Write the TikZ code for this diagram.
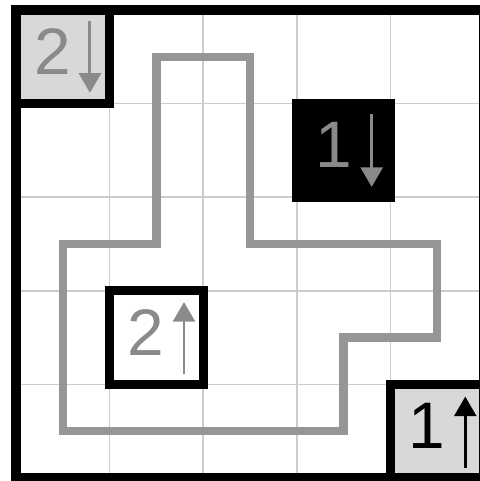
\documentclass[tikz,border=0pt]{standalone}
\usepackage{fontspec}
\setmainfont{Liberation Sans}
\usetikzlibrary{arrows.meta}
\definecolor{gridgray}{RGB}{204,204,204}
\definecolor{pathgray}{RGB}{150,150,150}
\definecolor{textgray}{RGB}{138,138,138}
\definecolor{cellgray}{RGB}{216,216,216}
\begin{document}
\begin{tikzpicture}[x=1cm,y=-1cm,
  gridline/.style={gridgray, line width=0.45pt},
  thickline/.style={black, line width=2.75pt, line join=miter},
  loopline/.style={pathgray, line width=2.5pt, line join=miter},
  digit/.style={font=\fontsize{20}{24}\selectfont, inner sep=0pt},
  arr/.style={line width=0.9pt, -{Triangle[width=0.235cm,length=0.21cm]}}]
\useasboundingbox (-0.171,-0.107) rectangle (4.947,5.032);
% grid
\foreach \i in {1,2,3,4} {
  \draw[gridline] (\i,0) -- (\i,5);
  \draw[gridline] (0,\i) -- (5,\i);
}
% cell fills
\fill[cellgray] (0,0) rectangle (1,1);
\fill[cellgray] (4,4) rectangle (5,5);
% loop
\draw[loopline] (1.5,0.5) -- (2.5,0.5) -- (2.5,2.5) -- (4.5,2.5) -- (4.5,3.5)
  -- (3.5,3.5) -- (3.5,4.5) -- (0.5,4.5) -- (0.5,2.5) -- (1.5,2.5) -- cycle;
% boxes
\draw[thickline] (0,0) rectangle (1,1);
\draw[thickline, fill=black] (3,1) rectangle (4,2);
\draw[thickline] (1,3) rectangle (2,4);
\draw[thickline] (4,4) rectangle (5,5);
\draw[thickline] (0,0) rectangle (5,5);
% clues
\node[digit, textgray] (d1) at (0.39,0.445) {2};
\coordinate (a1s) at (0.79,0.115); \coordinate (a1e) at (0.79,0.885);
\draw[arr, textgray] (a1s) -- (a1e);
\node[digit, textgray] (d2) at (3.39,1.445) {1};
\coordinate (a2s) at (3.8,1.11); \coordinate (a2e) at (3.8,1.89);
\draw[arr, textgray] (a2s) -- (a2e);
\node[digit, textgray] (d3) at (1.39,3.445) {2};
\coordinate (a3s) at (1.795,3.89); \coordinate (a3e) at (1.795,3.12);
\draw[arr, textgray] (a3s) -- (a3e);
\node[digit, black] (d4) at (4.39,4.445) {1};
\coordinate (a4s) at (4.8,4.89); \coordinate (a4e) at (4.8,4.13);
\draw[arr, black] (a4s) -- (a4e);
\end{tikzpicture}
\end{document}
